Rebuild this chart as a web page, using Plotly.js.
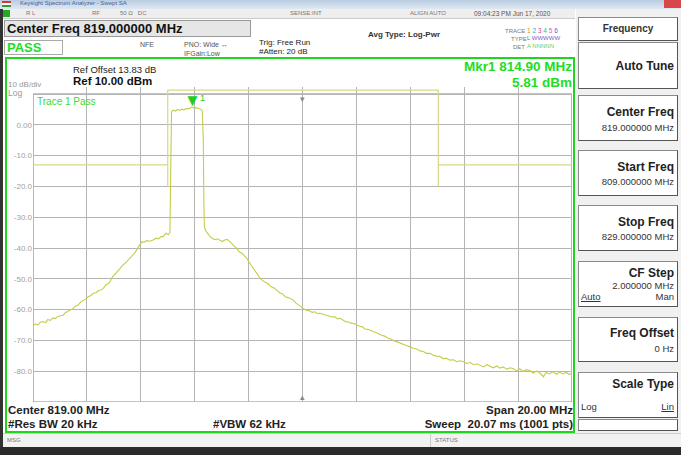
<!DOCTYPE html>
<html><head><meta charset="utf-8">
<script src="https://cdn.plot.ly/plotly-3.0.1.min.js"></script>
<style>
body{margin:0;width:681px;height:455px;overflow:hidden;background:#fff;font-family:"Liberation Sans",Arial,sans-serif;}
.a{position:absolute;white-space:nowrap;}
.sk{position:absolute;left:578px;width:100px;background:#fff;border:1px solid #8a8a8a;border-right-color:#555;border-bottom-color:#555;box-sizing:border-box;}
.skt{position:absolute;right:3px;font-weight:bold;font-size:12px;color:#222;}
.skv{position:absolute;right:3px;font-size:9.5px;color:#333;}
.tiny{font-size:6px;color:#777;}
</style></head><body>
<!-- title bar -->
<div class="a" style="left:0;top:0;width:681px;height:9px;background:linear-gradient(#b8cce0,#dfe8f2);"></div>
<div class="a" style="left:2px;top:1px;width:9px;height:6px;background:linear-gradient(#d33 0 33%,#fff 33% 66%,#393 66%);"></div>
<div class="a" style="left:20px;top:0px;font-size:6px;color:#4060a0;">Keysight Spectrum Analyzer - Swept SA</div>
<div class="a" style="left:664px;top:0;width:17px;height:8px;background:#d84848;"></div>
<!-- status bar -->
<div class="a" style="left:0;top:9px;width:575px;height:9px;background:#eee;border-bottom:1px solid #ccc;"></div>
<div class="a" style="left:3px;top:10px;width:7px;height:7px;background:#2a2;"></div>
<div class="a tiny" style="left:26px;top:10px;">R L</div>
<div class="a tiny" style="left:92px;top:10px;">RF</div>
<div class="a tiny" style="left:120px;top:10px;">50 Ω&nbsp;&nbsp; DC</div>
<div class="a tiny" style="left:290px;top:10px;">SENSE:INT</div>
<div class="a tiny" style="left:410px;top:10px;">ALIGN AUTO</div>
<div class="a" style="left:474px;top:10px;font-size:6.5px;color:#555;">09:04:23 PM Jun 17, 2020</div>
<!-- header -->
<div class="a" style="left:4px;top:20px;width:247px;height:17px;background:#e6e6e6;border:1px solid #999;box-sizing:border-box;"></div>
<div class="a" style="left:7px;top:21px;font-size:13px;font-weight:bold;color:#111;">Center Freq 819.000000 MHz</div>
<div class="a" style="left:4px;top:40px;width:59px;height:15px;border:1px solid #aaa;box-sizing:border-box;"></div>
<div class="a" style="left:7px;top:40px;font-size:13px;font-weight:bold;color:#22dd22;">PASS</div>
<div class="a" style="left:140px;top:41px;font-size:7px;color:#555;">NFE</div>
<div class="a" style="left:184px;top:41px;font-size:7px;color:#555;">PNO: Wide ↔</div>
<div class="a" style="left:184px;top:50px;font-size:7px;color:#555;">IFGain:Low</div>
<div class="a" style="left:259px;top:38px;font-size:8px;color:#222;">Trig: Free Run</div>
<div class="a" style="left:259px;top:47px;font-size:8px;color:#222;">#Atten: 20 dB</div>
<div class="a" style="left:368px;top:30px;font-size:8px;font-weight:bold;color:#333;">Avg Type: Log-Pwr</div>
<div class="a tiny" style="left:505px;top:28px;">TRACE</div>
<div class="a tiny" style="left:511px;top:36px;">TYPE</div>
<div class="a tiny" style="left:513px;top:44px;">DET</div>
<div class="a" style="left:527px;top:27px;font-size:6.5px;"><span style="color:#c8a000">1</span> <span style="color:#30a0e0">2</span> <span style="color:#e040a0">3</span> <span style="color:#30c060">4</span> <span style="color:#e06080">5</span> <span style="color:#6060e0">6</span></div>
<div class="a" style="left:527px;top:35px;font-size:6px;color:#8060c0;">L WWWWW</div>
<div class="a" style="left:527px;top:43px;font-size:6px;color:#6c6;">A NNNNN</div>
<!-- green frame -->
<div class="a" style="left:5px;top:57px;width:570px;height:376px;border:2px solid #1ed61e;box-sizing:border-box;"></div>
<div class="a" style="left:0;top:9px;width:3px;height:440px;background:#333;"></div>
<div class="a" style="left:73px;top:64px;font-size:9.5px;color:#222;">Ref Offset 13.83 dB</div>
<div class="a" style="left:73px;top:75px;font-size:11.5px;font-weight:bold;color:#111;">Ref 10.00 dBm</div>
<div class="a" style="left:8px;top:80px;font-size:8px;color:#999;">10 dB/div</div>
<div class="a" style="left:8px;top:88px;font-size:8.5px;color:#999;">Log</div>
<div class="a" style="right:109px;top:59px;font-size:13.5px;font-weight:bold;color:#22dd22;line-height:15px;">Mkr1 814.90 MHz</div>
<div class="a" style="right:109px;top:75px;font-size:13.5px;font-weight:bold;color:#22dd22;line-height:15px;">5.81 dBm</div>
<!-- bottom texts -->
<div class="a" style="left:8px;top:404px;font-size:11.5px;font-weight:bold;color:#222;">Center 819.00 MHz</div>
<div class="a" style="right:108px;top:404px;font-size:11.5px;font-weight:bold;color:#222;">Span 20.00 MHz</div>
<div class="a" style="left:8px;top:418px;font-size:11.5px;font-weight:bold;color:#222;">#Res BW 20 kHz</div>
<div class="a" style="left:213px;top:418px;font-size:11.5px;font-weight:bold;color:#222;">#VBW 62 kHz</div>
<div class="a" style="right:108px;top:418px;font-size:11.5px;font-weight:bold;color:#222;">Sweep&nbsp; 20.07 ms (1001 pts)</div>
<div class="a" style="left:3px;top:433px;width:678px;height:14px;background:#f2f2f2;border-top:1px solid #ccc;"></div>
<div class="a tiny" style="left:7px;top:437px;">MSG</div>
<div class="a" style="left:430px;top:433px;width:1px;height:14px;background:#ccc;"></div>
<div class="a tiny" style="left:435px;top:437px;">STATUS</div>
<div class="a" style="left:0;top:447px;width:681px;height:8px;background:#2b2b2b;"></div>
<!-- soft keys -->
<div class="a" style="left:576px;top:9px;width:105px;height:424px;background:#f0f0f0;"></div>
<div class="sk" style="top:17px;height:24px;"><div class="a" style="left:0;width:100%;text-align:center;top:5px;font-weight:bold;font-size:10px;color:#333;">Frequency</div></div>
<div class="sk" style="top:42px;height:47px;"><div class="skt" style="top:16px;">Auto Tune</div></div>
<div class="sk" style="top:95px;height:46px;"><div class="skt" style="top:9px;">Center Freq</div><div class="skv" style="top:26px;">819.000000 MHz</div></div>
<div class="sk" style="top:150px;height:46px;"><div class="skt" style="top:9px;">Start Freq</div><div class="skv" style="top:25px;">809.000000 MHz</div></div>
<div class="sk" style="top:205px;height:46px;"><div class="skt" style="top:9px;">Stop Freq</div><div class="skv" style="top:25px;">829.000000 MHz</div></div>
<div class="sk" style="top:261px;height:46px;"><div class="skt" style="top:4px;">CF Step</div><div class="skv" style="top:18px;">2.000000 MHz</div><div class="a" style="left:2px;top:29px;font-size:9.5px;color:#333;text-decoration:underline;">Auto</div><div class="skv" style="top:29px;">Man</div></div>
<div class="sk" style="top:317px;height:45px;"><div class="skt" style="top:8px;">Freq Offset</div><div class="skv" style="top:25px;">0 Hz</div></div>
<div class="sk" style="top:372px;height:46px;"><div class="skt" style="top:4px;">Scale Type</div><div class="a" style="left:2px;top:28px;font-size:9.5px;color:#333;">Log</div><div class="skv" style="top:28px;text-decoration:underline;">Lin</div></div>
<div class="sk" style="top:419px;height:12px;"></div>

<div id="plot" class="a" style="left:0;top:0;width:681px;height:455px;"></div>
<div class="a" style="left:37px;top:96px;font-size:10px;color:#33dd33;z-index:5;">Trace 1 Pass</div>
<script>
// Trace 1 (measured spectrum), MHz / dBm
const freqMHz = [809.00,809.10,809.18,809.27,809.38,809.47,809.55,809.64,809.74,809.83,809.92,810.02,810.12,810.20,810.30,810.40,810.50,810.58,810.68,810.78,810.87,810.96,811.05,811.15,811.24,811.34,811.43,811.52,811.61,811.70,811.78,811.86,811.93,812.00,812.11,812.20,812.30,812.40,812.48,812.58,812.67,812.76,812.85,812.93,813.03,813.12,813.22,813.33,813.46,813.56,813.66,813.75,813.83,813.93,814.02,814.08,
814.10,814.12,814.14,814.20,814.28,814.36,814.44,814.52,814.60,814.68,814.76,814.84,814.90,814.98,815.06,815.14,815.22,815.28,815.32,815.34,815.36,
815.42,815.50,815.57,815.66,815.75,815.84,815.93,816.02,816.10,816.20,816.31,816.40,816.48,816.56,816.65,816.75,816.84,816.93,817.02,817.10,817.17,817.26,817.35,817.43,817.52,817.62,817.72,817.82,817.93,818.04,818.15,818.26,818.36,818.46,818.56,818.66,818.76,818.86,818.95,819.03,819.14,819.25,819.36,819.46,819.56,819.65,819.76,819.87,819.98,820.09,820.20,820.30,820.39,820.50,820.60,820.70,820.80,820.90,821.01,821.12,821.22,821.32,821.42,821.53,821.63,821.73,821.84,821.94,822.05,822.18,822.30,822.40,822.50,822.62,822.75,822.87,823.00,823.11,823.24,823.36,823.48,823.60,823.73,823.85,823.97,824.10,824.22,824.35,824.47,824.60,824.72,824.85,824.97,825.10,825.22,825.35,825.47,825.59,825.72,825.84,825.96,826.08,826.21,826.33,826.45,826.58,826.70,826.82,826.94,827.06,827.18,827.30,827.44,827.56,827.68,827.80,827.94,828.04,828.16,828.30,828.42,828.54,828.66,828.78,828.90,829.00];
const levelDbm = [-65.3,-64.6,-65.0,-64.1,-63.9,-64.3,-63.2,-63.5,-62.7,-62.9,-62.2,-61.9,-61.8,-61.0,-60.6,-60.1,-59.6,-58.8,-58.5,-57.4,-56.9,-56.6,-55.8,-55.4,-54.7,-54.5,-53.8,-53.6,-53.1,-52.0,-51.6,-50.9,-49.6,-48.8,-47.7,-46.9,-45.9,-45.2,-44.4,-43.4,-42.6,-41.7,-40.6,-39.4,-38.0,-38.1,-37.6,-37.8,-37.4,-36.8,-37.0,-36.3,-36.3,-35.2,-35.6,-35.0,
-20,-2,4.2,4.8,4.5,5.0,4.7,5.1,4.9,5.3,5.2,5.5,5.81,5.4,5.6,5.3,5.1,4.6,-5,-25,-33.2,
-34.5,-35.6,-36.3,-36.9,-37.3,-37.0,-37.6,-37.9,-37.5,-37.2,-37.9,-38.9,-39.5,-40.1,-41.2,-41.7,-42.6,-43.3,-44.6,-45.7,-46.6,-47.9,-48.8,-49.8,-50.6,-51.2,-51.6,-52.5,-52.9,-53.6,-54.5,-54.9,-55.8,-56.1,-56.4,-56.9,-57.9,-58.6,-59.0,-59.6,-60.2,-60.4,-60.9,-60.7,-61.3,-61.2,-61.5,-61.9,-62.1,-62.4,-62.3,-63.0,-62.8,-63.4,-63.9,-64.0,-64.4,-64.5,-65.0,-65.4,-65.6,-66.3,-66.4,-66.9,-67.2,-67.4,-68.0,-68.3,-68.6,-69.3,-69.6,-70.2,-70.4,-70.9,-71.3,-71.7,-72.1,-72.6,-72.8,-73.4,-73.6,-74.2,-74.2,-74.8,-75.1,-75.2,-75.9,-75.8,-76.4,-76.3,-76.9,-76.6,-76.9,-77.5,-77.2,-77.9,-77.6,-78.0,-78.6,-77.9,-78.4,-78.9,-78.3,-79.0,-78.6,-79.4,-78.9,-79.1,-79.9,-79.2,-80.1,-79.5,-79.8,-80.6,-79.9,-80.5,-81.8,-80.4,-80.9,-80.2,-81.0,-80.3,-80.9,-80.4,-81.0,-80.7];
// Limit line (mask)
const limitFreqMHz = [809.0, 814.0, 814.0, 814.0, 824.04, 824.04, 824.04, 829.0];
const limitDbm     = [-13.0, -13.0, -20.0, 11.3, 11.3, -20.0, -13.0, -13.0];
// Marker 1
const mkrFreq = [814.90];
const mkrLevel = [5.81];
// Axes
const xGrid = [809,811,813,815,817,819,821,823,825,827,829];
const yGrid = [10,0,-10,-20,-30,-40,-50,-60,-70,-80,-90];
const yTickText = ['', '0.00','-10.0','-20.0','-30.0','-40.0','-50.0','-60.0','-70.0','-80.0',''];
const centerFreq = 819;

const traces = [
  {x: limitFreqMHz, y: limitDbm, mode:'lines', line:{color:'#d6d884', width:1.2}, hoverinfo:'skip'},
  {x: freqMHz, y: levelDbm, mode:'lines', line:{color:'#c6cc48', width:1.1}, hoverinfo:'skip'}
];
const layout = {
  width:681, height:455,
  margin:{l:33, r:109, t:87, b:53, pad:0},
  paper_bgcolor:'rgba(0,0,0,0)', plot_bgcolor:'#fff',
  showlegend:false,
  font:{family:'Liberation Sans, Arial, sans-serif'},
  xaxis:{range:[809,829], tickvals:xGrid, showticklabels:false, ticks:'', showgrid:true, gridcolor:'#b4b4b4', gridwidth:1, zeroline:false, showline:false, fixedrange:true},
  yaxis:{range:[-90,12.3], tickvals:yGrid, ticktext:yTickText, ticks:'', showgrid:true, gridcolor:'#b4b4b4', gridwidth:1, zeroline:false, showline:false, tickfont:{size:8, color:'#a0a0a0'}, fixedrange:true},
  shapes:[{type:'rect', xref:'x', yref:'y', x0:809, x1:829, y0:-90, y1:10, line:{color:'#8a8a8a', width:1.2}, layer:'below'}],
  annotations:[
    {x:mkrFreq[0], y:mkrLevel[0], xref:'x', yref:'y', text:'▼', showarrow:false, yanchor:'bottom', yshift:-5, font:{size:17, color:'#22cc22'}},
    {x:mkrFreq[0], y:mkrLevel[0], xref:'x', yref:'y', text:'1', showarrow:false, xanchor:'left', yanchor:'bottom', xshift:6, yshift:2, font:{size:9, color:'#22cc22'}},
    {x:centerFreq, y:10, xref:'x', yref:'y', text:'▾', showarrow:false, yanchor:'top', yshift:2, font:{size:9, color:'#888'}},
    {x:centerFreq, y:-90, xref:'x', yref:'y', text:'▴', showarrow:false, yanchor:'bottom', yshift:-2, font:{size:9, color:'#888'}}
  ]
};
Plotly.newPlot('plot', traces, layout, {staticPlot:true, displayModeBar:false});
</script>
</body></html>
